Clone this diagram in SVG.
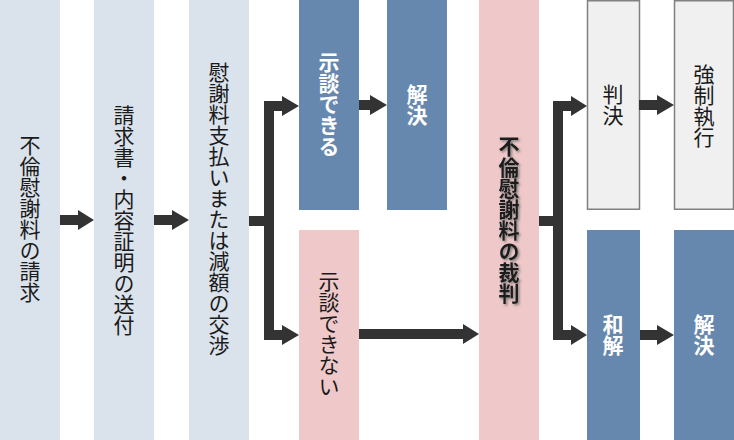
<svg xmlns="http://www.w3.org/2000/svg" width="734" height="440" viewBox="0 0 734 440">
<defs>
<style>
.t{font-family:"Noto Sans CJK JP","Noto Sans CJK SC",sans-serif;font-size:21px;writing-mode:vertical-rl;text-anchor:middle;dominant-baseline:central;}
.dk{fill:#1a1a1a;}
.wb{fill:#ffffff;font-weight:bold;}
.gray{fill:#dae2eb;}
.blue{fill:#6788ae;}
.pink{fill:#efc8c9;}
.lite{fill:#f0f0f0;stroke:#808080;stroke-width:1.5;}
.ar{fill:#333333;}
</style>
<filter id="sh" x="-20%" y="-20%" width="140%" height="140%">
<feDropShadow dx="1.5" dy="1.5" stdDeviation="0.8" flood-color="#777777" flood-opacity="0.9"/>
</filter>
</defs>
<rect width="734" height="440" fill="#ffffff"/>
<g id="n1"><rect class="gray" x="0" y="0" width="60" height="440"/><text class="t dk" x="30" y="219">不倫慰謝料の請求</text></g>
<g id="n2"><rect class="gray" x="94" y="0" width="60" height="440"/><text class="t dk" x="124" y="220">請求書・内容証明の送付</text></g>
<g id="n3"><rect class="gray" x="189" y="0" width="60" height="440"/><text class="t dk" x="219" y="209">慰謝料支払いまたは減額の交渉</text></g>
<g id="n4"><rect class="blue" x="299" y="0" width="60" height="210"/><text class="t wb" x="329" y="104">示談できる</text></g>
<g id="n5"><rect class="blue" x="387" y="0" width="60" height="210"/><text class="t wb" x="417" y="105">解決</text></g>
<g id="n6"><rect class="pink" x="299" y="230" width="60" height="210"/><text class="t dk" x="329" y="334">示談できない</text></g>
<g id="n7"><rect class="pink" x="479" y="0" width="60" height="440"/><text class="t dk" x="509" y="220" font-weight="bold" filter="url(#sh)">不倫慰謝料の裁判</text></g>
<g id="n8"><rect class="lite" x="587.5" y="0.75" width="52" height="208.5"/><text class="t dk" x="613" y="105">判決</text></g>
<g id="n9"><rect class="lite" x="674.5" y="0.75" width="59" height="208.5"/><text class="t dk" x="704" y="106">強制執行</text></g>
<g id="n10"><rect class="blue" x="587" y="230" width="53" height="210"/><text class="t wb" x="613" y="335">和解</text></g>
<g id="n11"><rect class="blue" x="674" y="230" width="60" height="210"/><text class="t wb" x="704" y="335">解決</text></g>
<g id="connectors" class="ar">
<polygon points="60,215 78,215 78,210 94,220 78,230 78,225 60,225"/>
<polygon points="154,215 172,215 172,210 189,220 172,230 172,225 154,225"/>
<polygon points="249,216 264,216 264,101 282,101 282,96 299,106 282,116 282,111 274,111 274,330 282,330 282,325 299,335 282,345 282,340 264,340 264,226 249,226"/>
<polygon points="359,100 370,100 370,95 387,105 370,115 370,110 359,110"/>
<polygon points="359,329 463,329 463,324 479,334 463,344 463,339 359,339"/>
<polygon points="539,216 553,216 553,101 571,101 571,96 587,106 571,116 571,111 563,111 563,330 571,330 571,325 587,335 571,345 571,340 553,340 553,226 539,226"/>
<polygon points="639,100 657,100 657,95 674,105 657,115 657,110 639,110"/>
<polygon points="640,330 657,330 657,325 674,335 657,345 657,340 640,340"/>
</g>
</svg>
